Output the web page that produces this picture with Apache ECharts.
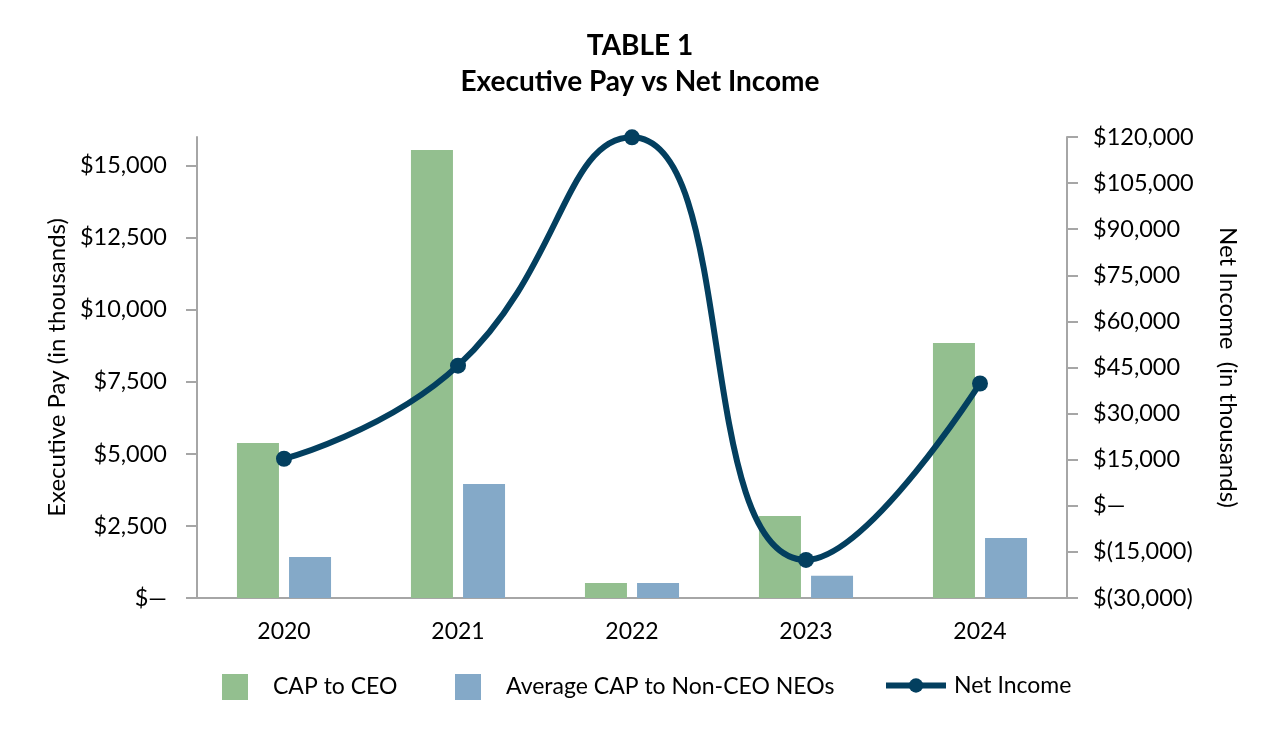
<!DOCTYPE html>
<html><head><meta charset="utf-8">
<script src="https://cdn.jsdelivr.net/npm/echarts@6/dist/echarts.min.js"></script>
<style>html,body{margin:0;padding:0;background:#fff}#c{width:1280px;height:730px}</style>
</head><body><div id="c"></div>
<script>
const categories = ['2020','2021','2022','2023','2024'];
const capCEO = [5380, 15550, 520, 2850, 8850];
const capNonCEO = [1420, 3960, 520, 770, 2080];
const netIncome = [15300, 45600, 119900, -17600, 39800];
const leftTicks = [0, 2500, 5000, 7500, 10000, 12500, 15000];
const rightTicks = [-30000, -15000, 0, 15000, 30000, 45000, 60000, 75000, 90000, 105000, 120000];

const FONT = 'Lato';
function money(v){
  if (v === 0) return '$\u2014';
  const s = Math.abs(v).toLocaleString('en-US');
  return v < 0 ? '$(' + s + ')' : '$' + s;
}
const axisGray = '#a6a6a6';
const navy = '#033f5f';
const chart = echarts.init(document.getElementById('c'));
const legendText = {fontFamily: FONT, fontSize: 23, color: '#000', padding: [0,0,0,20]};
chart.setOption({
  animation: false,
  textStyle: {fontFamily: FONT},
  title: {
    text: 'TABLE 1\nExecutive Pay vs Net Income',
    left: 'center', top: 23,
    textStyle: {fontFamily: FONT, fontWeight: 'bold', fontSize: 28, lineHeight: 36, color: '#000'}
  },
  legend: [
    {data: ['CAP to CEO'], left: 217, top: 669, itemWidth: 26, itemHeight: 26, textStyle: legendText, icon: 'rect'},
    {data: ['Average CAP to Non-CEO NEOs'], left: 450, top: 669, itemWidth: 26, itemHeight: 26, textStyle: legendText, icon: 'rect'},
    {data: ['Net Income'], left: 878, top: 669, itemWidth: 60, itemHeight: 18,
     lineStyle: {width: 6, color: navy},
     textStyle: Object.assign({}, legendText, {padding:[0,0,0,3]})}
  ],
  grid: {left: 197, right: 213, top: 137, bottom: 132, containLabel: false},
  xAxis: {
    type: 'category', data: categories,
    axisLine: {lineStyle: {color: axisGray, width: 2}},
    axisTick: {alignWithLabel: true, length: 11, lineStyle: {color: axisGray, width: 2}},
    axisLabel: {fontFamily: FONT, fontSize: 23, color: '#000', margin: 22}
  },
  yAxis: [
    {
      type: 'value', min: 0, max: 16000, interval: 2500,
      name: 'Executive Pay (in thousands)', nameLocation: 'middle', nameGap: 125,
      nameTextStyle: {fontFamily: FONT, fontSize: 24, color: '#000'},
      axisLine: {show: true, lineStyle: {color: axisGray, width: 2}},
      axisTick: {show: true, length: 11, customValues: leftTicks, lineStyle: {color: axisGray, width: 2}},
      axisLabel: {fontFamily: FONT, fontSize: 23.5, color: '#000', margin: 30, customValues: leftTicks, formatter: money},
      splitLine: {show: false}
    },
    {
      type: 'value', min: -30000, max: 120000, interval: 15000, position: 'right',
      name: 'Net Income  (in thousands)', nameLocation: 'middle', nameGap: 149, nameRotate: -90,
      nameTextStyle: {fontFamily: FONT, fontSize: 24, color: '#000'},
      axisLine: {show: true, lineStyle: {color: axisGray, width: 2}},
      axisTick: {show: true, length: 11, customValues: rightTicks, lineStyle: {color: axisGray, width: 2}},
      axisLabel: {fontFamily: FONT, fontSize: 23.5, color: '#000', margin: 26, customValues: rightTicks, formatter: money},
      splitLine: {show: false}
    }
  ],
  series: [
    {name: 'CAP to CEO', type: 'bar', data: capCEO, barWidth: 42, barGap: '24%', itemStyle: {color: '#93bf8f'}},
    {name: 'Average CAP to Non-CEO NEOs', type: 'bar', data: capNonCEO, barWidth: 42, barGap: '24%', itemStyle: {color: '#84a9c8'}},
    {name: 'Net Income', type: 'line', yAxisIndex: 1, data: netIncome, smooth: 0.5, clip: false,
     symbol: 'circle', symbolSize: 16, lineStyle: {color: navy, width: 6}, itemStyle: {color: navy}}
  ]
});
</script></body></html>
